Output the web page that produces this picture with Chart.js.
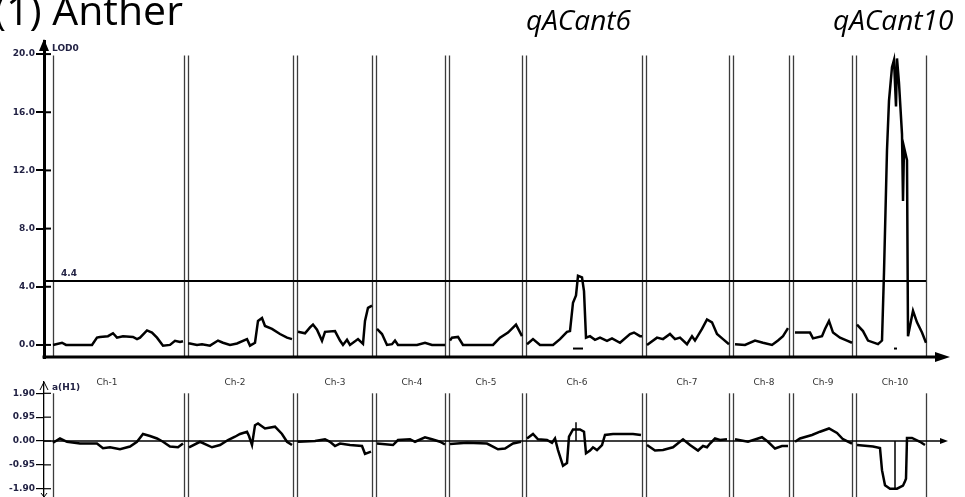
<!DOCTYPE html>
<html lang="en">
<head>
<meta charset="UTF-8">
<title>(1) Anther - QTL scan</title>
<script src="https://cdn.jsdelivr.net/npm/chart.js"></script>
<style>
  body { margin: 0; background: #fff; }
  #wrap { position: relative; width: 965px; height: 497px; overflow: hidden; background: #fff; }
  #wrap canvas { position: absolute; left: 0; top: 0; }
  .txt { position: absolute; white-space: nowrap; color: #000; font-family: "Open Sans", sans-serif; line-height: normal; }
  #title { left: -6px; top: -19px; font-size: 41px; }
  .qtl { font-style: italic; font-size: 28px; top: 0px; }
</style>
</head>
<body>
<div id="wrap">
  <canvas id="lodChart" width="965" height="497"></canvas>
  <canvas id="effChart" width="965" height="497"></canvas>
  <div class="txt" id="title">(1) Anther</div>
  <div class="txt qtl" style="left:526px">qACant6</div>
  <div class="txt qtl" style="left:833px">qACant10</div>
</div>
<script>
// chromosomes (map position units along the genome)
const chrNames = ['Ch-1', 'Ch-2', 'Ch-3', 'Ch-4', 'Ch-5', 'Ch-6', 'Ch-7', 'Ch-8', 'Ch-9', 'Ch-10'];
const chrStart = [9, 144, 253, 332, 405, 482, 602, 689, 749, 812];
const chrEnd = [140, 249, 328, 401, 478, 598, 685, 745, 808, 882];
const chrLabelPos = [63, 191, 291, 368, 442, 533, 643, 720, 779, 851];

const lodTicks = [0, 4, 8, 12, 16, 20];
const effTicks = [-1.9, -0.95, 0, 0.95, 1.9];
const threshold = 4.4;

// LOD profile, one list per chromosome
const lodPos = [
  [9, 18, 22, 48, 53, 56, 64, 69, 73, 79, 89, 93, 96, 103, 108, 113, 119, 126, 131, 136, 139],
  [144, 146, 153, 158, 166, 174, 179, 186, 193, 203, 206, 211, 214, 218, 221, 228, 236, 243, 248],
  [254, 261, 266, 269, 273, 278, 281, 291, 296, 299, 303, 306, 314, 319, 321, 324, 328],
  [333, 338, 343, 348, 351, 354, 373, 381, 388, 401],
  [406, 408, 414, 419, 436, 449, 456, 464, 472, 478],
  [483, 489, 496, 509, 516, 523, 526, 529, 532, 534, 538, 540, 542, 546, 551, 556, 563, 568, 576, 586, 590, 596, 598],
  [603, 613, 619, 626, 631, 636, 643, 648, 651, 658, 663, 668, 673, 679, 685],
  [691, 701, 711, 719, 728, 734, 739, 744],
  [751, 766, 769, 778, 781, 785, 789, 796, 803, 808],
  [813, 819, 824, 834, 838, 840, 843, 845, 848, 850, 852, 853, 855, 858, 859, 860, 863, 864, 869, 873, 878, 882]
];
const lodVal = [
  [0, 0.15, 0, 0, 0.5, 0.55, 0.6, 0.8, 0.5, 0.6, 0.55, 0.4, 0.5, 1.0, 0.85, 0.5, -0.05, 0, 0.28, 0.2, 0.25],
  [0.1, 0.1, 0, 0.05, -0.05, 0.3, 0.15, 0, 0.1, 0.4, -0.05, 0.15, 1.65, 1.85, 1.3, 1.1, 0.75, 0.5, 0.4],
  [0.9, 0.8, 1.2, 1.4, 1.05, 0.28, 0.9, 0.95, 0.3, 0, 0.35, 0, 0.4, 0.07, 1.65, 2.55, 2.7],
  [1.1, 0.75, 0, 0.05, 0.3, 0, 0, 0.15, 0, 0],
  [0.3, 0.5, 0.55, 0, 0, 0, 0.5, 0.85, 1.4, 0.6],
  [0.05, 0.4, 0, 0, 0.4, 0.9, 0.95, 2.9, 3.4, 4.75, 4.65, 3.7, 0.5, 0.6, 0.35, 0.5, 0.28, 0.45, 0.15, 0.75, 0.85, 0.6, 0.6],
  [0, 0.5, 0.4, 0.75, 0.4, 0.5, 0.05, 0.6, 0.3, 1.1, 1.75, 1.55, 0.75, 0.4, 0.05],
  [0.05, 0, 0.3, 0.15, 0, 0.3, 0.6, 1.15],
  [0.85, 0.85, 0.45, 0.6, 1.1, 1.65, 0.85, 0.5, 0.3, 0.15],
  [1.4, 0.95, 0.3, 0.05, 0.3, 5, 13.4, 16.8, 19.1, 19.6, 16.4, 19.7, 18, 14.5, 9.9, 13.6, 12.7, 0.6, 2.35, 1.55, 0.85, 0.15]
];

// additive effect a(H1), one list per chromosome
const effPos = [
  [9, 16, 23, 36, 53, 59, 66, 76, 86, 93, 99, 106, 113, 119, 126, 134, 139],
  [145, 156, 168, 176, 184, 191, 196, 203, 205, 208, 211, 214, 221, 231, 238, 243, 248],
  [254, 271, 281, 286, 291, 296, 306, 318, 321, 327],
  [333, 349, 354, 366, 371, 381, 388, 396, 401],
  [406, 423, 443, 448, 454, 461, 469, 477],
  [483, 489, 494, 503, 508, 511, 514, 519, 523, 525, 529, 536, 540, 542, 546, 549, 553, 558, 561, 569, 589, 597],
  [603, 611, 619, 629, 639, 646, 654, 659, 663, 666, 671, 676, 683],
  [691, 704, 718, 724, 731, 738, 744],
  [751, 756, 768, 776, 785, 793, 799, 808],
  [813, 829, 836, 838, 841, 846, 853, 859, 861, 862, 863, 868, 876, 881]
];
const effVal = [
  [-0.07, 0.1, -0.03, -0.1, -0.1, -0.29, -0.25, -0.33, -0.22, -0.03, 0.28, 0.2, 0.1, -0.03, -0.22, -0.25, -0.1],
  [-0.25, -0.03, -0.25, -0.16, 0.04, 0.17, 0.28, 0.37, 0.2, -0.16, 0.63, 0.7, 0.5, 0.57, 0.28, -0.03, -0.16],
  [-0.03, 0, 0.07, -0.03, -0.2, -0.1, -0.16, -0.2, -0.51, -0.42],
  [-0.1, -0.16, 0.04, 0.07, -0.03, 0.15, 0.07, -0.03, -0.14],
  [-0.12, -0.07, -0.1, -0.2, -0.33, -0.3, -0.1, -0.03],
  [0.1, 0.28, 0.07, 0.04, -0.07, 0.1, -0.36, -0.99, -0.88, 0.17, 0.46, 0.46, 0.37, -0.49, -0.38, -0.25, -0.36, -0.16, 0.24, 0.28, 0.28, 0.24],
  [-0.16, -0.38, -0.36, -0.25, 0.07, -0.16, -0.38, -0.2, -0.25, -0.1, 0.1, 0.04, 0.07],
  [0.07, -0.03, 0.15, -0.03, -0.3, -0.2, -0.2],
  [-0.03, 0.1, 0.24, 0.37, 0.5, 0.32, 0.07, -0.1],
  [-0.16, -0.22, -0.28, -1.16, -1.76, -1.9, -1.9, -1.78, -1.6, -1.5, 0.12, 0.12, -0.03, -0.16]
];

// support interval marks under the LOD peaks, peak markers on the effect curve
const ciFrom = [529, 850];
const ciTo = [539, 853];
const ciLevel = -0.25;
const peakPos = [532, 851];
const peakEff = [0.75, -1.9];

function joinChr(pos, val) {
  const out = [];
  pos.forEach((p, i) => {
    if (i > 0) out.push({ x: (chrEnd[i - 1] + chrStart[i]) / 2, y: null });
    p.forEach((x, j) => out.push({ x: x, y: val[i][j] }));
  });
  return out;
}

const tickFont = { family: 'DejaVu Sans', size: 9, weight: 'bold' };
const tickColor = '#222244';

const decor = {
  id: 'decor',
  beforeDatasetsDraw(chart, args, opts) {
    const { ctx, chartArea, scales } = chart;
    const top = scales.y.getPixelForValue(opts.lineTop);
    ctx.save();
    ctx.strokeStyle = '#3c3c3c';
    ctx.lineWidth = 1.3;
    chrStart.concat(chrEnd).forEach(p => {
      const x = Math.round(scales.x.getPixelForValue(p)) + 0.5;
      ctx.beginPath();
      ctx.moveTo(x, top);
      ctx.lineTo(x, chartArea.bottom);
      ctx.stroke();
    });
    ctx.restore();
  },
  afterDraw(chart, args, opts) {
    const { ctx, chartArea, scales } = chart;
    const L = chartArea.left, R = chartArea.right;
    ctx.save();
    ctx.strokeStyle = '#000';
    ctx.fillStyle = '#000';
    // tick marks crossing the axis
    ctx.lineWidth = opts.tickWidth;
    scales.y.ticks.forEach(t => {
      const y = scales.y.getPixelForValue(t.value);
      ctx.beginPath();
      ctx.moveTo(L, y);
      ctx.lineTo(L + 7, y);
      ctx.stroke();
    });
    if (opts.kind === 'lod') {
      const yb = chartArea.bottom - 1;
      ctx.lineWidth = 3;
      ctx.beginPath();
      ctx.moveTo(L - 1.5, yb);
      ctx.lineTo(R - 10, yb);
      ctx.stroke();
      ctx.beginPath();
      ctx.moveTo(R, yb);
      ctx.lineTo(R - 15, yb - 5);
      ctx.lineTo(R - 15, yb + 5);
      ctx.closePath();
      ctx.fill();
      ctx.beginPath();
      ctx.moveTo(L, chartArea.top - 2);
      ctx.lineTo(L - 5, chartArea.top + 10);
      ctx.lineTo(L + 5, chartArea.top + 10);
      ctx.closePath();
      ctx.fill();
      ctx.font = 'bold 9px "DejaVu Sans"';
      ctx.fillStyle = tickColor;
      ctx.fillText('LOD0', L + 8, chartArea.top + 10);
      ctx.fillText(threshold.toFixed(1), scales.x.getPixelForValue(17), scales.y.getPixelForValue(threshold) - 5);
    } else {
      const y0 = scales.y.getPixelForValue(0);
      ctx.lineWidth = 1.5;
      ctx.beginPath();
      ctx.moveTo(L, y0);
      ctx.lineTo(R - 8, y0);
      ctx.stroke();
      ctx.beginPath();
      ctx.moveTo(R - 2, y0);
      ctx.lineTo(R - 10, y0 - 3);
      ctx.lineTo(R - 10, y0 + 3);
      ctx.closePath();
      ctx.fill();
      ctx.lineWidth = 1;
      ctx.beginPath();
      ctx.moveTo(L - 4, chartArea.top + 8);
      ctx.lineTo(L, chartArea.top);
      ctx.lineTo(L + 4, chartArea.top + 8);
      ctx.moveTo(L - 3, chartArea.bottom - 4);
      ctx.lineTo(L, chartArea.bottom);
      ctx.lineTo(L + 3, chartArea.bottom - 4);
      ctx.stroke();
      ctx.font = 'bold 9px "DejaVu Sans"';
      ctx.fillStyle = tickColor;
      ctx.fillText('a(H1)', L + 8, chartArea.top + 8);
      ctx.font = '9px "DejaVu Sans"';
      ctx.fillStyle = '#333';
      ctx.textAlign = 'center';
      const ly = scales.y.getPixelForValue(1.9) - 8;
      chrNames.forEach((n, i) => ctx.fillText(n, scales.x.getPixelForValue(chrLabelPos[i]), ly));
    }
    ctx.restore();
  }
};

function yScale(min, max, ticks, digits, border) {
  return {
    min: min, max: max,
    afterFit: s => { s.width = 44; s.paddingTop = 0; s.paddingBottom = 0; },
    afterBuildTicks: s => { s.ticks = ticks.map(v => ({ value: v })); },
    ticks: { callback: v => v.toFixed(digits), color: tickColor, font: tickFont, padding: 1, autoSkip: false },
    grid: { drawOnChartArea: false, tickLength: 8, color: '#000', lineWidth: border === 3 ? 2 : 1.2 },
    border: { color: '#000', width: border }
  };
}

const lineStyle = { borderColor: '#000', borderWidth: 2.5, pointRadius: 0, tension: 0, fill: false };

new Chart(document.getElementById('lodChart'), {
  type: 'line',
  data: {
    datasets: [
      Object.assign({ label: 'LOD', data: joinChr(lodPos, lodVal) }, lineStyle),
      { label: 'threshold', data: [{ x: 0, y: threshold }, { x: chrEnd[9], y: threshold }], borderColor: '#000', borderWidth: 2, pointRadius: 0 },
      { label: 'ci6', data: [{ x: ciFrom[0], y: ciLevel }, { x: ciTo[0], y: ciLevel }], borderColor: '#000', borderWidth: 2, pointRadius: 0 },
      { label: 'ci10', data: [{ x: ciFrom[1], y: ciLevel }, { x: ciTo[1], y: ciLevel }], borderColor: '#000', borderWidth: 2, pointRadius: 0 }
    ]
  },
  options: {
    responsive: false,
    animation: false,
    layout: { padding: { top: 41, bottom: 139, right: 15, left: 0 } },
    scales: {
      x: { type: 'linear', min: 0, max: 906, display: false },
      y: yScale(-0.9, 20.9, lodTicks, 1, 3)
    },
    plugins: { legend: { display: false }, tooltip: { enabled: false }, decor: { kind: 'lod', lineTop: 19.9, tickWidth: 2 } }
  },
  plugins: [decor]
});

new Chart(document.getElementById('effChart'), {
  type: 'line',
  data: {
    datasets: [
      Object.assign({ label: 'a(H1)', data: joinChr(effPos, effVal) }, lineStyle),
      { label: 'peak6', data: [{ x: peakPos[0], y: 0 }, { x: peakPos[0], y: peakEff[0] }], borderColor: '#000', borderWidth: 1.5, pointRadius: 0 },
      { label: 'peak10', data: [{ x: peakPos[1], y: 0 }, { x: peakPos[1], y: peakEff[1] }], borderColor: '#000', borderWidth: 1.5, pointRadius: 0 }
    ]
  },
  options: {
    responsive: false,
    animation: false,
    layout: { padding: { top: 382, bottom: 0, right: 15, left: 0 } },
    scales: {
      x: { type: 'linear', min: 0, max: 906, display: false },
      y: yScale(-2.23, 2.35, effTicks, 2, 1.3)
    },
    plugins: { legend: { display: false }, tooltip: { enabled: false }, decor: { kind: 'eff', lineTop: 1.9, tickWidth: 1.2 } }
  },
  plugins: [decor]
});
</script>
</body>
</html>
